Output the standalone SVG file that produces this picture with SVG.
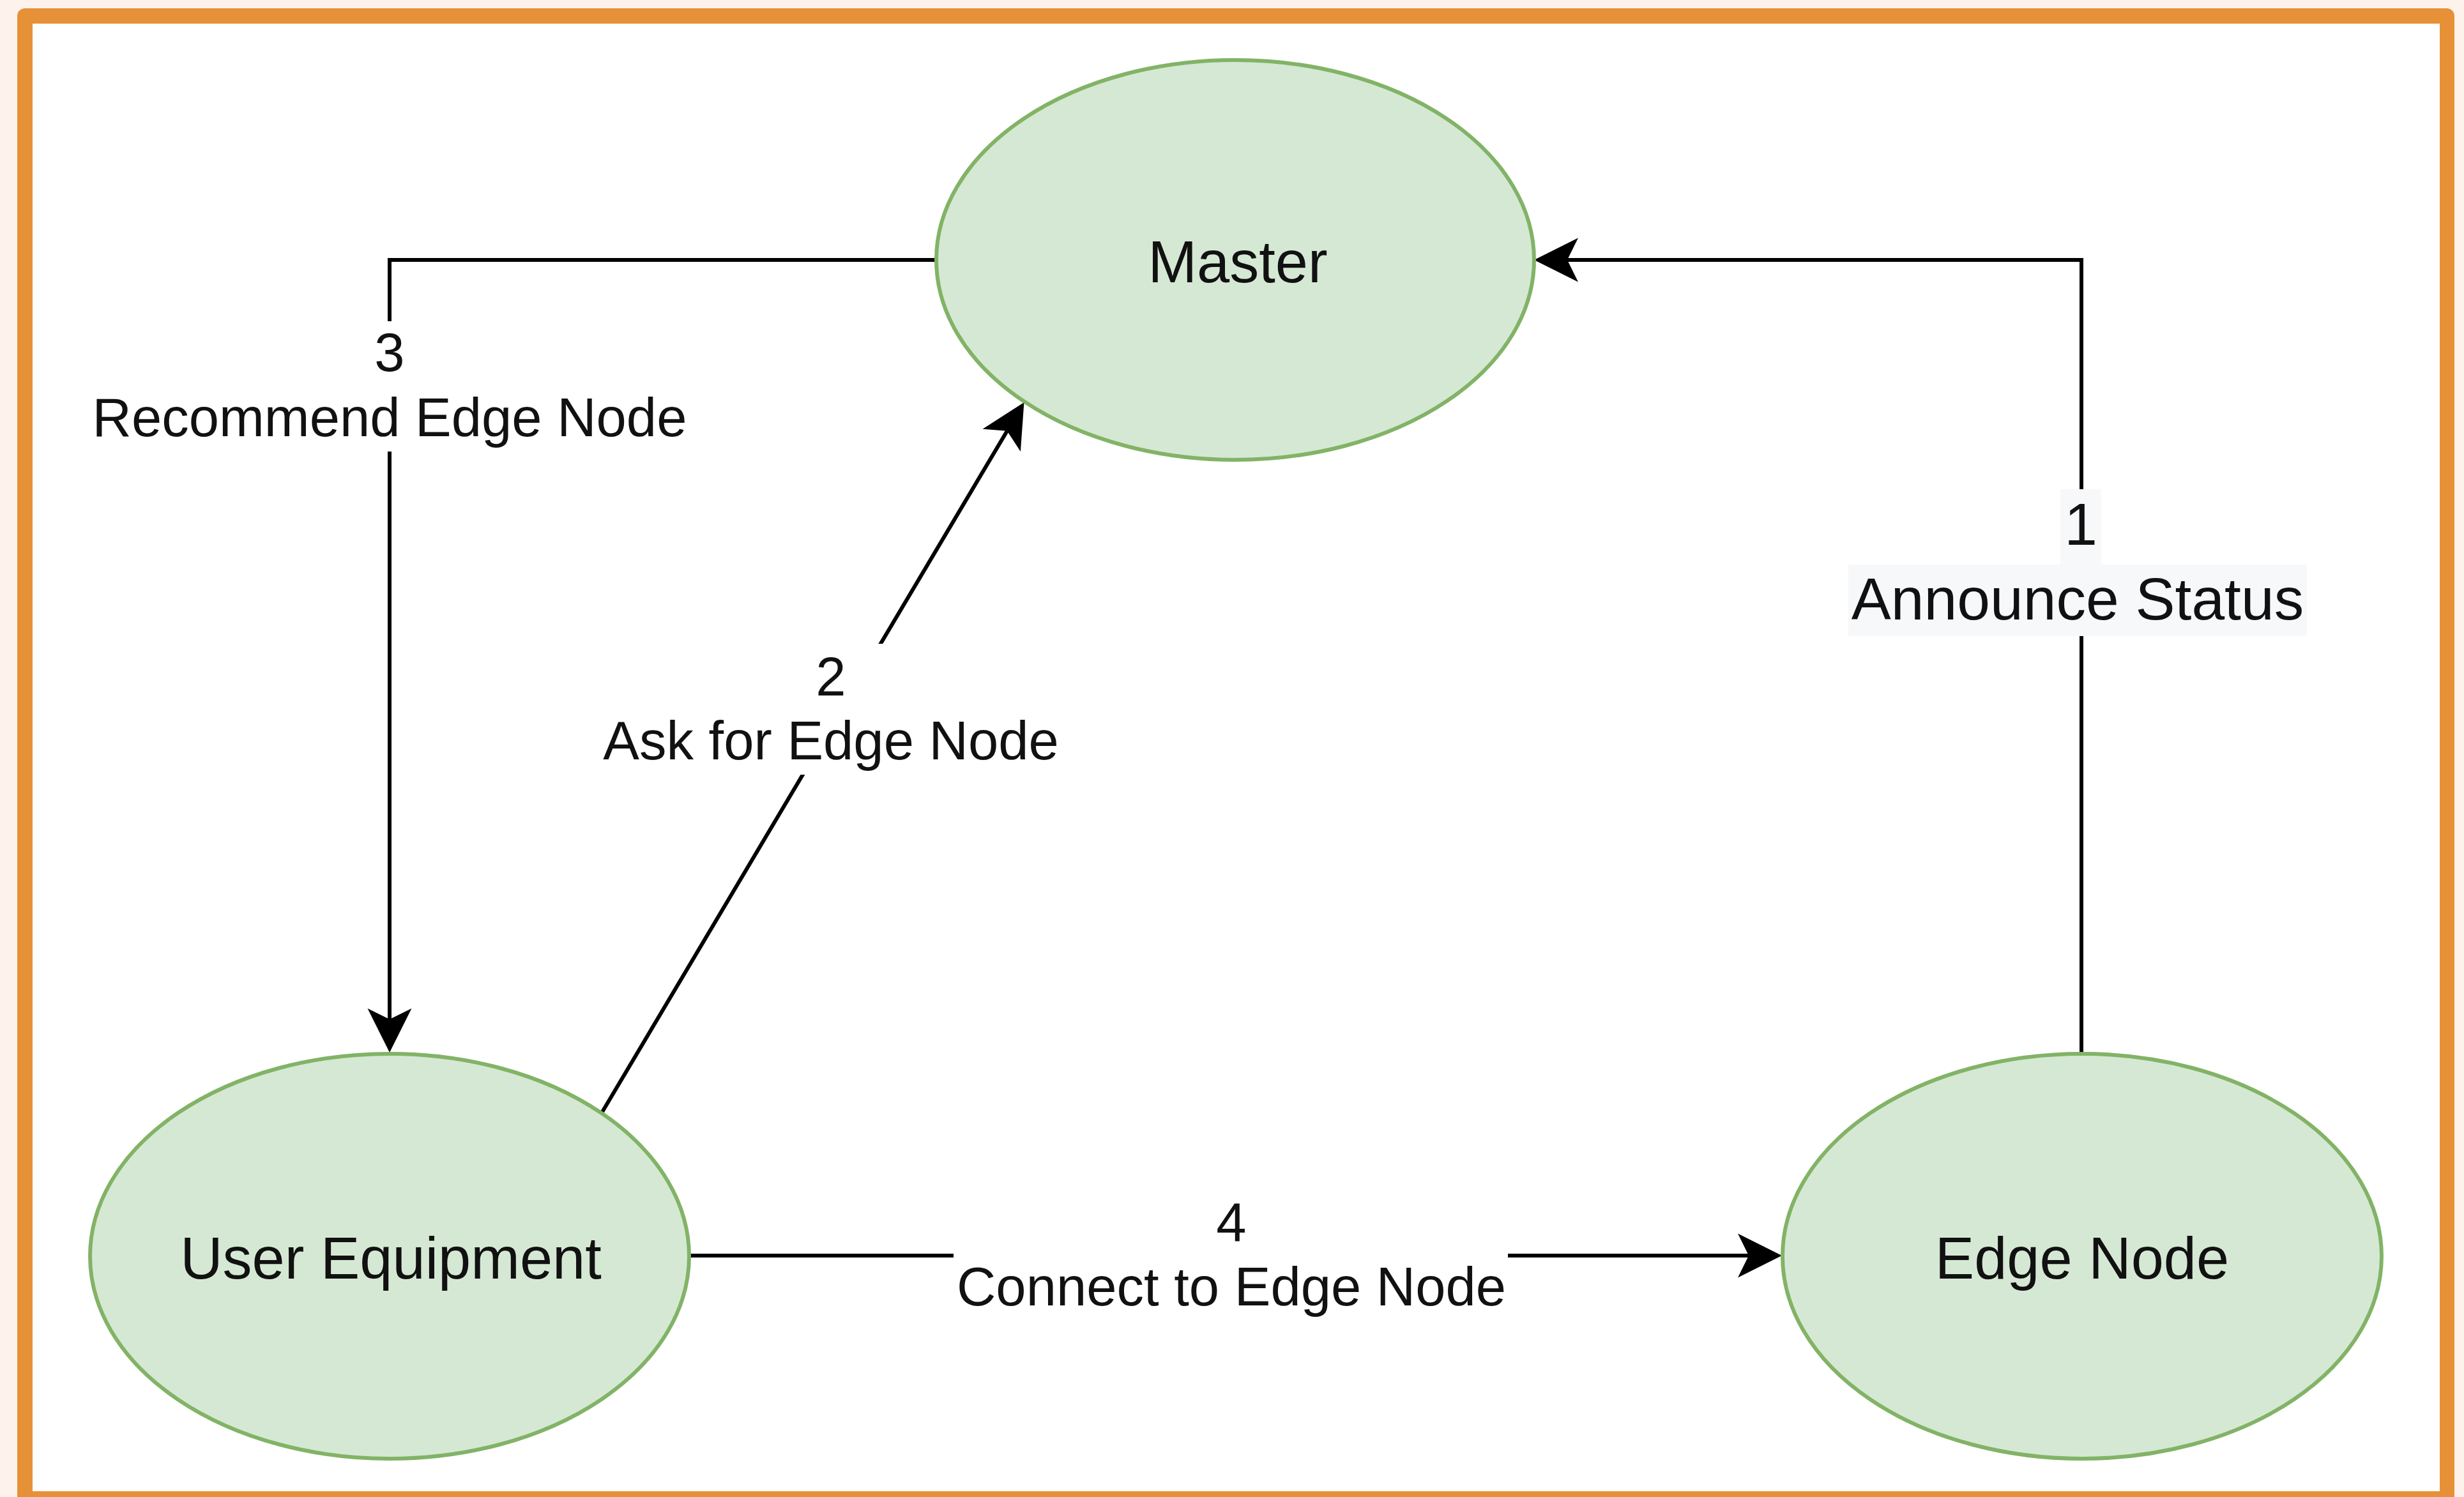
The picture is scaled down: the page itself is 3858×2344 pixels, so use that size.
<svg xmlns="http://www.w3.org/2000/svg" width="3858" height="2344" viewBox="0 0 3858 2344">
  <style>
    .node ellipse { fill: #d5e8d4; stroke: #82b366; stroke-width: 6; }
    .node text { font-family: "Liberation Sans", Arial, Helvetica, sans-serif; font-size: 92px; fill: #111111; text-anchor: middle; }
    .edge { fill: none; stroke: #000000; stroke-width: 6; marker-end: url(#arrow); }
    .lbl { font-family: "Liberation Sans", Arial, Helvetica, sans-serif; font-size: 85px; fill: #111111; text-anchor: middle; }
    .lbl-big { font-size: 93px; }
    .lblbg { fill: #ffffff; }
    .lblbg-grey { fill: #f7f8fa; }
  </style>
  <defs>
    <marker id="arrow" markerUnits="userSpaceOnUse" viewBox="-20 -36 74 72" refX="0" refY="0" markerWidth="74" markerHeight="72" orient="auto">
      <path d="M52,0 L-17,-34.5 L0,0 L-17,34.5 Z" fill="#000000"/>
    </marker>
  </defs>

  <!-- background and frame -->
  <rect x="0" y="0" width="3858" height="2344" fill="#fdf3ec"/>
  <rect x="27" y="13" width="3816" height="2360" rx="12" ry="12" fill="#e69138"/>
  <rect x="51" y="37" width="3769" height="2298" fill="#ffffff"/>

  <!-- connectors -->
  <g id="connectors">
    <g id="edge-1">
      <path class="edge" d="M3259,1650 V407 H2454"/>
      <rect class="lblbg-grey" x="3226" y="766" width="64" height="118"/>
      <rect class="lblbg-grey" x="2894" y="884" width="718" height="112"/>
      <text class="lbl lbl-big" x="3258" y="853">1</text>
      <text class="lbl lbl-big" x="3253" y="970">Announce Status</text>
    </g>
    <g id="edge-2">
      <path class="edge" d="M943,1741 L1576.9,674.7"/>
      <rect class="lblbg" x="938" y="1008" width="724" height="205"/>
      <text class="lbl" x="1301" y="1089">2</text>
      <text class="lbl" x="1301" y="1189">Ask for Edge Node</text>
    </g>
    <g id="edge-3">
      <path class="edge" d="M1466,407 H610 V1596"/>
      <rect class="lblbg" x="138" y="503" width="944" height="204"/>
      <text class="lbl" x="610" y="581">3</text>
      <text class="lbl" x="610" y="683">Recommend Edge Node</text>
    </g>
    <g id="edge-4">
      <path class="edge" d="M1079,1966 H2738"/>
      <rect class="lblbg" x="1493" y="1872" width="868" height="194"/>
      <text class="lbl" x="1928" y="1943">4</text>
      <text class="lbl" x="1928" y="2044">Connect to Edge Node</text>
    </g>
  </g>

  <!-- nodes -->
  <g id="node-master" class="node">
    <ellipse cx="1934" cy="407" rx="468" ry="313"/>
    <text x="1938" y="442">Master</text>
  </g>
  <g id="node-user-equipment" class="node">
    <ellipse cx="610" cy="1967" rx="469" ry="317"/>
    <text x="612" y="2002">User Equipment</text>
  </g>
  <g id="node-edge-node" class="node">
    <ellipse cx="3260" cy="1967" rx="469" ry="317"/>
    <text x="3260" y="2002">Edge Node</text>
  </g>
</svg>
